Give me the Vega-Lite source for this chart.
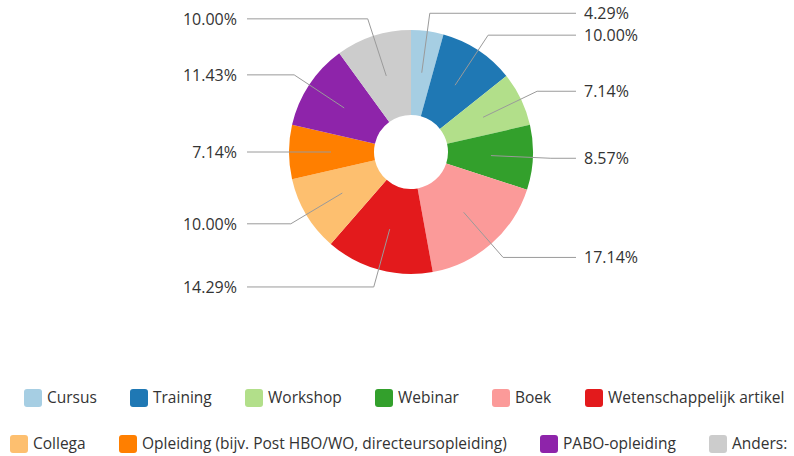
{
  "$schema": "https://vega.github.io/schema/vega-lite/v6.json",
  "width": 766,
  "height": 304,
  "autosize": {"type": "none"},
  "padding": {"left": 28, "top": 0, "right": 0, "bottom": 152},
  "background": "white",
  "config": {
    "view": {"stroke": null},
    "font": "Open Sans",
    "legend": {
      "title": null,
      "orient": "none",
      "direction": "horizontal",
      "symbolType": "M-1,-0.67 Q-1,-1 -0.67,-1 L0.67,-1 Q1,-1 1,-0.67 L1,0.67 Q1,1 0.67,1 L-0.67,1 Q-1,1 -1,0.67 Z",
      "symbolSize": 324,
      "symbolStrokeWidth": 0,
      "symbolOpacity": 1,
      "labelFontSize": 15.5,
      "labelFont": "Open Sans",
      "labelColor": "#333333",
      "labelLimit": 500,
      "labelOffset": 5,
      "columnPadding": 33
    }
  },
  "data": {"values": [
    {"category": "Cursus", "count": 3},
    {"category": "Training", "count": 7},
    {"category": "Workshop", "count": 5},
    {"category": "Webinar", "count": 6},
    {"category": "Boek", "count": 12},
    {"category": "Wetenschappelijk artikel", "count": 10},
    {"category": "Collega", "count": 7},
    {"category": "Opleiding (bijv. Post HBO/WO, directeursopleiding)", "count": 5},
    {"category": "PABO-opleiding", "count": 8},
    {"category": "Anders:", "count": 7}
  ]},
  "transform": [
    {"joinaggregate": [{"op": "sum", "field": "count", "as": "total"}]},
    {"window": [{"op": "sum", "field": "count", "as": "cum"}], "frame": [null, 0]},
    {"calculate": "(datum.cum - datum.count) / datum.total", "as": "f0"},
    {"calculate": "datum.cum / datum.total", "as": "f1"},
    {"calculate": "datum.count / datum.total", "as": "pct"},
    {"calculate": "PI * (datum.f0 + datum.f1)", "as": "mid"},
    {"calculate": "80 * sin(datum.mid)", "as": "x1"},
    {"calculate": "80 * cos(datum.mid)", "as": "y1"},
    {"calculate": "140 * sin(datum.mid)", "as": "xe"},
    {"calculate": "140 * cos(datum.mid)", "as": "ye"},
    {"calculate": "datum.xe > 0.5 ? 165 : -164", "as": "xh"},
    {"calculate": "datum.xe > 0.5 ? 'right' : 'left'", "as": "side"}
  ],
  "layer": [
    {
      "transform": [{"filter": "datum.cum <= 43"}],
      "mark": {"type": "arc", "innerRadius": 37, "outerRadius": 122},
      "encoding": {
        "theta": {"field": "f0", "type": "quantitative", "scale": {"domain": [0, 1]}},
        "theta2": {"field": "f1"},
        "color": {
          "field": "category",
          "type": "nominal",
          "sort": null,
          "scale": {
            "domain": ["Cursus", "Training", "Workshop", "Webinar", "Boek", "Wetenschappelijk artikel"],
            "range": ["#a6cee3", "#1f78b4", "#b2df8a", "#33a02c", "#fb9a99", "#e31a1c"]
          },
          "legend": {"legendX": -4, "legendY": 389}
        }
      }
    },
    {
      "transform": [{"filter": "datum.cum > 43"}],
      "mark": {"type": "arc", "innerRadius": 37, "outerRadius": 122},
      "encoding": {
        "theta": {"field": "f0", "type": "quantitative"},
        "theta2": {"field": "f1"},
        "fill": {
          "field": "category",
          "type": "nominal",
          "sort": null,
          "scale": {
            "domain": ["Collega", "Opleiding (bijv. Post HBO/WO, directeursopleiding)", "PABO-opleiding", "Anders:"],
            "range": ["#fdbf6f", "#ff7f00", "#8e24aa", "#cccccc"]
          },
          "legend": {"legendX": -18, "legendY": 435}
        }
      }
    },
    {
      "mark": {"type": "rule", "color": "#9a9a9a", "strokeWidth": 1},
      "encoding": {
        "x": {"field": "x1", "type": "quantitative", "scale": {"domain": [-383, 383], "nice": false, "zero": false}, "axis": null},
        "y": {"field": "y1", "type": "quantitative", "scale": {"domain": [-152, 152], "nice": false, "zero": false}, "axis": null},
        "x2": {"field": "xe"},
        "y2": {"field": "ye"}
      }
    },
    {
      "mark": {"type": "rule", "color": "#9a9a9a", "strokeWidth": 1},
      "encoding": {
        "x": {"field": "xe", "type": "quantitative"},
        "x2": {"field": "xh"},
        "y": {"field": "ye", "type": "quantitative"},
        "y2": {"field": "ye"}
      }
    },
    {
      "transform": [{"filter": "datum.side == 'right'"}],
      "mark": {"type": "text", "align": "left", "baseline": "middle", "dx": 8, "dy": 1, "fontSize": 16, "font": "Open Sans", "color": "#333333"},
      "encoding": {
        "x": {"field": "xh", "type": "quantitative"},
        "y": {"field": "ye", "type": "quantitative"},
        "text": {"field": "pct", "type": "quantitative", "format": ".2%"}
      }
    },
    {
      "transform": [{"filter": "datum.side == 'left'"}],
      "mark": {"type": "text", "align": "right", "baseline": "middle", "dx": -10, "dy": 1, "fontSize": 16, "font": "Open Sans", "color": "#333333"},
      "encoding": {
        "x": {"field": "xh", "type": "quantitative"},
        "y": {"field": "ye", "type": "quantitative"},
        "text": {"field": "pct", "type": "quantitative", "format": ".2%"}
      }
    }
  ]
}
